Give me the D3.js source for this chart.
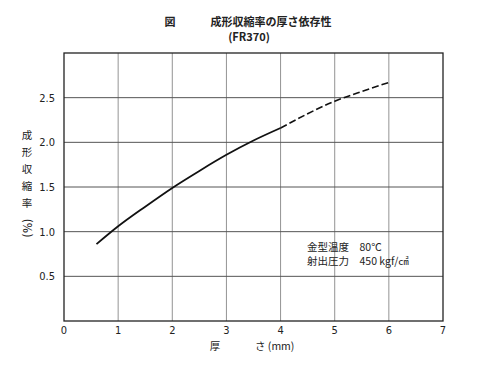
<!DOCTYPE html>
<html>
<head>
<meta charset="utf-8">
<script src="https://cdn.jsdelivr.net/npm/d3@7"></script>
<style>
body { margin: 0; background: #fff; }
text { fill: #222; }
.num { font-family: "DejaVu Sans Condensed", "DejaVu Sans", sans-serif; font-stretch: condensed; font-size: 11px; }
.jp { font-family: "Noto Sans CJK JP", sans-serif; font-size: 10.5px; }
</style>
</head>
<body>
<div id="chart"></div>
<script>
// data
var solidX = [0.6, 1.0, 1.5, 2.0, 2.5, 3.0, 3.5, 4.0];
var solidY = [0.86, 1.06, 1.28, 1.49, 1.68, 1.86, 2.02, 2.16];
var dashX = [4.0, 4.5, 5.0, 5.5, 6.0];
var dashY = [2.16, 2.32, 2.46, 2.57, 2.67];
var xTicks = [0, 1, 2, 3, 4, 5, 6, 7];
var yTicks = [0.5, 1.0, 1.5, 2.0, 2.5];
var yTitle = ["成", "形", "収", "縮", "率"];

var svgWidth = 500;
var svgHeight = 371;

var margin = {
    top: 53,
    right: 57,
    bottom: 50,
    left: 64
};

var width = svgWidth - margin.left - margin.right;
var height = svgHeight - margin.top - margin.bottom;

var svg = d3.select("#chart")
    .append("svg")
    .attr("width", svgWidth)
    .attr("height", svgHeight);

var chartGroup = svg.append("g")
    .attr("transform", `translate(${margin.left}, ${margin.top})`);

var xScale = d3.scaleLinear().domain([0, 7]).range([0, width]);
var yScale = d3.scaleLinear().domain([0, 3]).range([height, 0]);

// grid lines
chartGroup.selectAll(".vgrid")
    .data(xTicks.slice(1, -1))
    .enter()
    .append("line")
    .attr("x1", d => xScale(d))
    .attr("x2", d => xScale(d))
    .attr("y1", 0)
    .attr("y2", height)
    .attr("stroke", "#777")
    .attr("stroke-width", 0.8);

chartGroup.selectAll(".hgrid")
    .data(yTicks)
    .enter()
    .append("line")
    .attr("x1", 0)
    .attr("x2", width)
    .attr("y1", d => yScale(d))
    .attr("y2", d => yScale(d))
    .attr("stroke", "#555")
    .attr("stroke-width", 1);

// frame
chartGroup.append("rect")
    .attr("width", width)
    .attr("height", height)
    .attr("fill", "none")
    .attr("stroke", "#222")
    .attr("stroke-width", 1.3);

// tick labels
chartGroup.selectAll(".xlab")
    .data(xTicks)
    .enter()
    .append("text")
    .attr("class", "num")
    .attr("x", d => xScale(d))
    .attr("y", height + 13)
    .attr("text-anchor", "middle")
    .text(d => d);

chartGroup.selectAll(".ylab")
    .data(yTicks)
    .enter()
    .append("text")
    .attr("class", "num")
    .attr("x", -9)
    .attr("y", d => yScale(d) + 4)
    .attr("text-anchor", "end")
    .text(d => d.toFixed(1));

// curve
var line = d3.line()
    .x(d => xScale(d[0]))
    .y(d => yScale(d[1]))
    .curve(d3.curveMonotoneX);

chartGroup.append("path")
    .datum(d3.zip(solidX, solidY))
    .attr("d", line)
    .attr("fill", "none")
    .attr("stroke", "#111")
    .attr("stroke-width", 1.8);

chartGroup.append("path")
    .datum(d3.zip(dashX, dashY))
    .attr("d", line)
    .attr("fill", "none")
    .attr("stroke", "#111")
    .attr("stroke-width", 1.6)
    .attr("stroke-dasharray", "7,3");

// titles
svg.append("text")
    .attr("class", "jp")
    .attr("x", 170)
    .attr("y", 26)
    .attr("text-anchor", "middle")
    .style("font-weight", "bold")
    .style("font-size", "11px")
    .text("図");

svg.append("text")
    .attr("class", "jp")
    .attr("x", 271)
    .attr("y", 26)
    .attr("text-anchor", "middle")
    .style("font-weight", "bold")
    .style("font-size", "11px")
    .text("成形収縮率の厚さ依存性");

svg.append("text")
    .attr("class", "jp")
    .attr("x", 249)
    .attr("y", 41)
    .attr("text-anchor", "middle")
    .style("font-weight", "bold")
    .style("font-size", "11px")
    .text("(FR370)");

// y title, stacked characters
svg.selectAll(".ytitle")
    .data(yTitle)
    .enter()
    .append("text")
    .attr("class", "jp")
    .attr("x", 27)
    .attr("y", (d, i) => 139 + i * 17)
    .attr("text-anchor", "middle")
    .text(d => d);

svg.append("text")
    .attr("class", "num")
    .attr("transform", "translate(23, 228) rotate(90)")
    .attr("text-anchor", "middle")
    .style("font-size", "12px")
    .text("(%)");

// x title
svg.append("text")
    .attr("class", "jp")
    .attr("x", 215)
    .attr("y", 350)
    .attr("text-anchor", "middle")
    .text("厚");

svg.append("text")
    .attr("class", "jp")
    .attr("x", 255)
    .attr("y", 350)
    .text("さ (mm)");

// note
svg.append("text")
    .attr("class", "jp")
    .attr("x", 307)
    .attr("y", 251)
    .text("金型温度　80℃");

svg.append("text")
    .attr("class", "jp")
    .attr("x", 307)
    .attr("y", 265)
    .text("射出圧力　450 kgf/㎠");
</script>
</body>
</html>
